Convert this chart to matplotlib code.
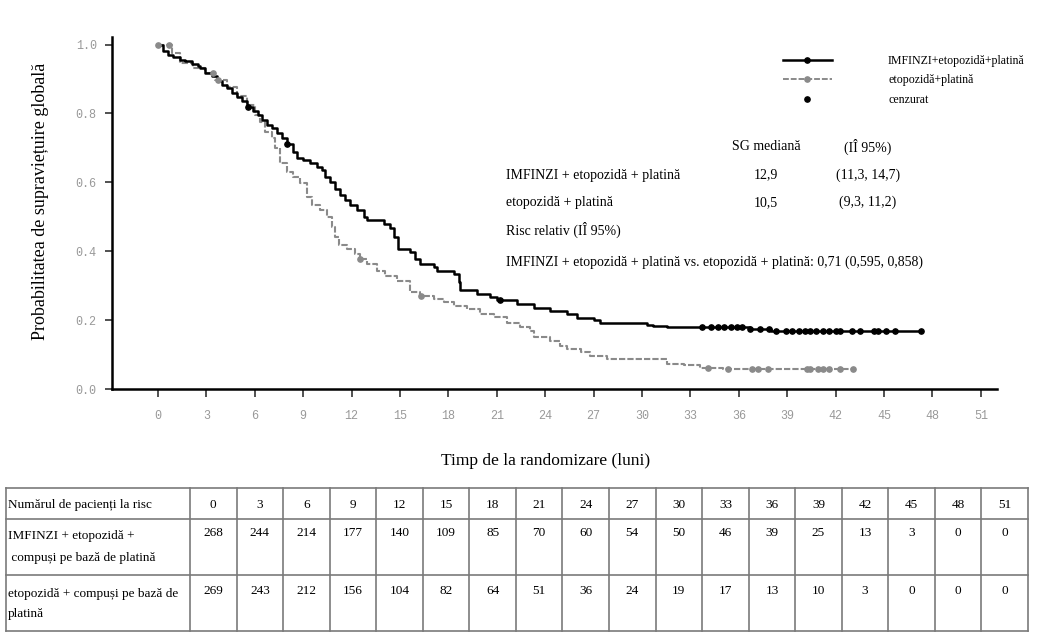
import numpy as np
import matplotlib
matplotlib.use('Agg')
import matplotlib.pyplot as plt
from matplotlib.lines import Line2D

# Kaplan-Meier step knots (months, survival)
imf_t = [0, 0.33, 0.62, 0.93, 1.36, 1.67, 2.09, 2.48, 2.6, 2.92, 3.33, 3.64, 3.95, 4.26,
         4.57, 4.88, 5.19, 5.5, 5.91, 6.22, 6.43, 6.74, 7.05, 7.36, 7.67, 7.98, 8.39, 8.6,
         9.0, 9.43, 9.84, 10.15, 10.36, 10.67, 10.98, 11.29, 11.6, 11.91, 12.33, 12.74,
         12.95, 13.98, 14.39, 14.6, 14.9, 15.6, 15.94, 16.25, 17.08, 17.3, 18.32, 18.63,
         18.73, 19.77, 20.6, 21.0, 22.25, 23.28, 24.3, 25.35, 25.97, 27.0, 27.4, 30.3,
         30.7, 31.56, 36.7, 38.0]
imf_s = [1.0, 0.98, 0.971, 0.965, 0.956, 0.951, 0.945, 0.939, 0.933, 0.918, 0.908, 0.893,
         0.883, 0.874, 0.859, 0.848, 0.835, 0.818, 0.806, 0.796, 0.781, 0.767, 0.757,
         0.743, 0.728, 0.71, 0.689, 0.67, 0.665, 0.655, 0.645, 0.636, 0.616, 0.601, 0.582,
         0.563, 0.548, 0.534, 0.519, 0.499, 0.492, 0.48, 0.466, 0.441, 0.407, 0.397, 0.378,
         0.363, 0.354, 0.344, 0.334, 0.31, 0.286, 0.276, 0.266, 0.257, 0.247, 0.235,
         0.227, 0.218, 0.206, 0.2, 0.193, 0.187, 0.183, 0.179, 0.174, 0.167]
imf_end = 47.3
imf_cens = [5.6, 8.0, 21.2, 33.7, 34.3, 34.7, 35.1, 35.5, 35.9, 36.2, 36.7, 37.3, 37.9,
            38.3, 38.9, 39.3, 39.7, 40.1, 40.4, 40.8, 41.2, 41.6, 42.0, 42.3, 43.0, 43.5,
            44.4, 44.6, 45.1, 45.7, 47.3]

ep_t = [0, 0.85, 1.36, 2.19, 2.92, 3.54, 4.26, 4.88, 5.5, 6.02, 6.33, 6.64, 7.05, 7.26,
        7.57, 7.98, 8.39, 8.81, 9.22, 9.53, 10.05, 10.47, 10.78, 10.98, 11.19, 11.7, 12.22,
        12.5, 12.95, 13.57, 14.08, 14.81, 15.6, 16.25, 17.08, 17.7, 18.32, 19.15, 19.98,
        20.8, 21.63, 22.46, 23.08, 23.28, 24.3, 24.94, 25.35, 26.2, 26.8, 27.84, 31.56,
        32.6, 33.6, 35.0]
ep_s = [1.0, 0.976, 0.947, 0.932, 0.917, 0.898, 0.878, 0.85, 0.825, 0.796, 0.776, 0.747,
        0.728, 0.699, 0.655, 0.631, 0.616, 0.597, 0.558, 0.534, 0.519, 0.499, 0.47, 0.441,
        0.417, 0.407, 0.393, 0.378, 0.363, 0.344, 0.329, 0.315, 0.281, 0.271, 0.261,
        0.252, 0.242, 0.232, 0.218, 0.208, 0.193, 0.179, 0.169, 0.15, 0.14, 0.125, 0.116,
        0.106, 0.096, 0.087, 0.074, 0.07, 0.062, 0.058]
ep_end = 43.1
ep_cens = [0, 0.7, 3.4, 3.7, 12.5, 16.3, 34.1, 35.3, 36.8, 37.2, 37.8, 40.2, 40.4, 40.9,
           41.2, 41.6, 42.3, 43.1]

x_ticks = list(range(0, 52, 3))
y_ticks = [0.0, 0.2, 0.4, 0.6, 0.8, 1.0]

risk_header = 'Numărul de pacienți la risc'
risk_row1_label = 'IMFINZI + etopozidă +\n compuși pe bază de platină'
risk_row2_label = 'etopozidă + compuși pe bază de\nplatină'
risk_imf = [268, 244, 214, 177, 140, 109, 85, 70, 60, 54, 50, 46, 39, 25, 13, 3, 0, 0]
risk_ep = [269, 243, 212, 156, 104, 82, 64, 51, 36, 24, 19, 17, 13, 10, 3, 0, 0, 0]

serif = 'Liberation Serif'
mono = 'Liberation Mono'
gray = '#8a8a8a'


def surv_at(ts, ss, t):
    idx = np.searchsorted(ts, t, side='right') - 1
    return np.asarray(ss)[idx]


W, H = 1039, 634
fig = plt.figure(figsize=(W / 100, H / 100), dpi=100)
ax = fig.add_axes([112 / W, 1 - 389 / H, (997 - 112) / W, (389 - 37) / H])

# curves
t1 = np.append(imf_t, imf_end)
s1 = np.append(imf_s, imf_s[-1])
t2 = np.append(ep_t, ep_end)
s2 = np.append(ep_s, ep_s[-1])
ax.step(t2, s2, where='post', color=gray, lw=1.5, dashes=(3, 1))
ax.step(t1, s1, where='post', color='black', lw=1.8)
ax.plot(ep_cens, surv_at(t2, s2, np.array(ep_cens)), 'o', color=gray, ms=3.8, mec=gray)
ax.plot(imf_cens, surv_at(t1, s1, np.array(imf_cens)), 'o', color='black', ms=3.8)

ax.set_xlim(-2.85, 52.0)
ax.set_ylim(0, 1.022)
ax.set_xticks(x_ticks)
ax.set_xticklabels([str(v) for v in x_ticks], fontfamily=mono, fontsize=8.5, color='#999999')
ax.set_yticks(y_ticks)
ax.set_yticklabels([f'{v:.1f}' for v in y_ticks], fontfamily=mono, fontsize=8.5,
                   color='#999999')
ax.tick_params(axis='x', length=6, width=1.2, pad=9, color='#333')
ax.tick_params(axis='y', length=5, width=1.2, pad=6, color='#333')
for sp in ['top', 'right']:
    ax.spines[sp].set_visible(False)
for sp in ['left', 'bottom']:
    ax.spines[sp].set_linewidth(1.8)

ax.set_ylabel('Probabilitatea de supraviețuire globală', fontfamily=serif, fontsize=13)
ax.yaxis.set_label_coords(-(112 - 49) / (997 - 112), (389 - 201) / (389 - 37))
fig.text(546 / W, 1 - 461 / H, 'Timp de la randomizare (luni)', fontfamily=serif,
         fontsize=12.5, ha='center', va='center')

# annotation block
tk = dict(fontfamily=serif, fontsize=10, va='center')
ax.text(37.7, 0.703, 'SG mediană', ha='center', **tk)
ax.text(44.0, 0.703, '(IÎ 95%)', ha='center', **tk)
ax.text(21.6, 0.621, 'IMFINZI + etopozidă + platină', ha='left', **tk)
ax.text(37.7, 0.621, '12,9', ha='center', **tk)
ax.text(44.0, 0.621, '(11,3, 14,7)', ha='center', **tk)
ax.text(21.6, 0.541, 'etopozidă + platină', ha='left', **tk)
ax.text(37.7, 0.541, '10,5', ha='center', **tk)
ax.text(44.0, 0.541, '(9,3, 11,2)', ha='center', **tk)
ax.text(21.6, 0.461, 'Risc relativ (IÎ 95%)', ha='left', **tk)
ax.text(21.6, 0.367, 'IMFINZI + etopozidă + platină vs. etopozidă + platină: 0,71 (0,595, 0,858)',
        ha='left', **tk)

handles = [
    Line2D([], [], color='black', lw=1.8, marker='o', ms=3.8),
    Line2D([], [], color=gray, lw=1.4, dashes=(3, 1), marker='o', ms=3.8),
    Line2D([], [], color='black', ls='none', marker='o', ms=3.8),
]
labels = ['IMFINZI+etopozidă+platină', 'etopozidă+platină', 'cenzurat']
fig.legend(handles, labels, loc='upper left', bbox_to_anchor=(783 / W, 1 - 55 / H),
           frameon=False, prop={'family': serif, 'size': 8.6}, handlelength=4.1,
           handletextpad=4.7, labelspacing=0.62, borderpad=0, borderaxespad=0, numpoints=1)

# risk table
tax = fig.add_axes([0, 0, 1, 1], zorder=-1)
tax.set_xlim(0, W)
tax.set_ylim(H, 0)
tax.axis('off')
x0, x1, xr = 6, 190, 1028
y_edges = [488, 519, 575, 631]
ncol = len(x_ticks)
col_edges = np.linspace(x1, xr, ncol + 1)
lc = '#7a7a7a'
for y in y_edges:
    tax.plot([x0, xr], [y, y], color=lc, lw=1.2)
for x in [x0] + list(col_edges):
    tax.plot([x, x], [y_edges[0], y_edges[-1]], color=lc, lw=1.2)
tt = dict(fontfamily=serif, fontsize=9.5, va='center')
tax.text(x0 + 2, 505, risk_header, ha='left', **tt)
tax.text(x0 + 2, 547, risk_row1_label, ha='left', linespacing=2.2, **tt)
tax.text(x0 + 2, 604, risk_row2_label, ha='left', linespacing=2.0, **tt)
centers = (col_edges[:-1] + col_edges[1:]) / 2
for c, hdr, a, b in zip(centers, x_ticks, risk_imf, risk_ep):
    tax.text(c, 505, str(hdr), ha='center', **tt)
    tax.text(c, 533, str(a), ha='center', **tt)
    tax.text(c, 591, str(b), ha='center', **tt)

fig.savefig('out.png', dpi=100)
